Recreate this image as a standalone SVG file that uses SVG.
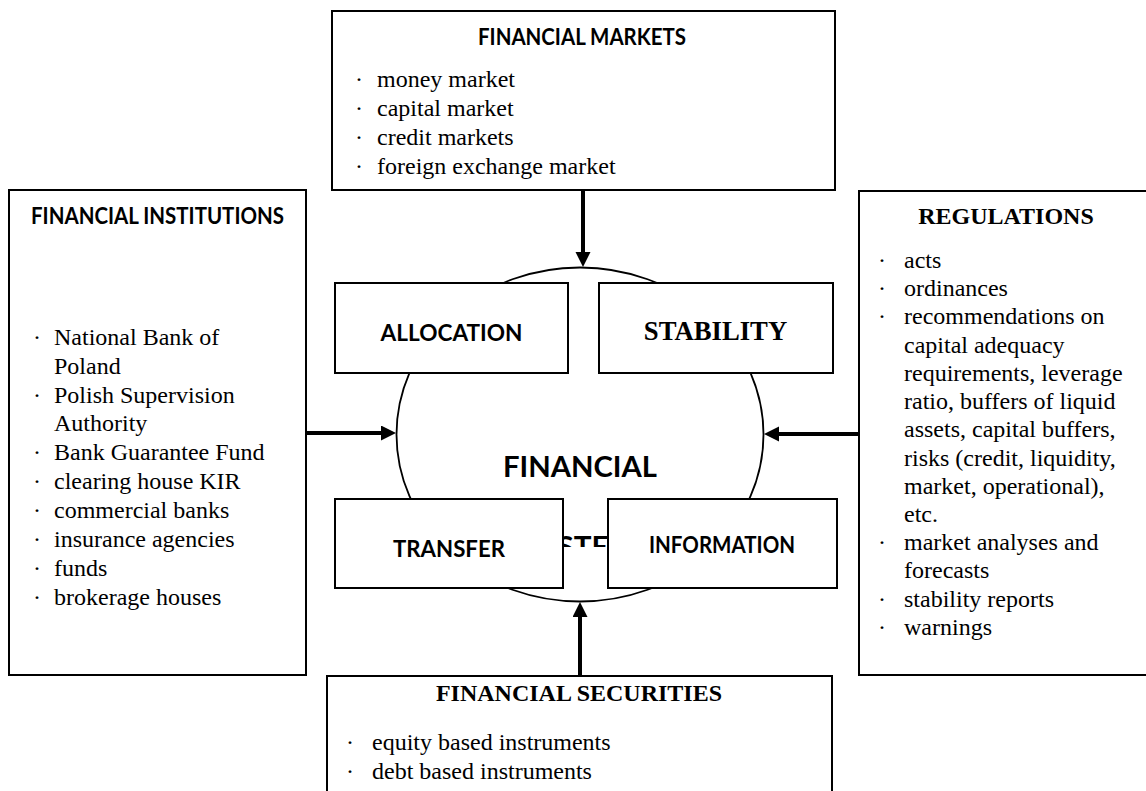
<svg xmlns="http://www.w3.org/2000/svg" width="1146" height="791" viewBox="0 0 1146 791">
<style>
.box{fill:#fff;stroke:#000;stroke-width:2}
.circ{fill:#fff;stroke:#000;stroke-width:1.8}
.t{font-family:"Liberation Serif","Times New Roman",serif;font-size:24px;fill:#000}
.tb{font-family:"Liberation Serif","Times New Roman",serif;font-size:24px;font-weight:bold;fill:#000;text-anchor:middle}
.tb2{font-family:"Liberation Serif","Times New Roman",serif;font-size:26.7px;font-weight:bold;fill:#000;text-anchor:middle}
.s{font-family:Lato,"Open Sans","Liberation Sans",sans-serif;font-weight:bold;fill:#000;text-anchor:middle}
.conn{stroke:#000;stroke-width:4;fill:none;marker-end:url(#ah)}
</style>
<defs>
<marker id="ah" markerUnits="userSpaceOnUse" markerWidth="16" markerHeight="16" refX="0" refY="7.5" orient="auto">
<path d="M0,0 L15,7.5 L0,15 z" fill="#000"/>
</marker>
<clipPath id="sysclip"><rect x="480" y="500" width="200" height="47"/></clipPath>
</defs>

<g id="markets">
<rect class="box" x="332" y="11" width="503" height="179"/>
<text class="s" x="582" y="45" font-size="22" textLength="208" lengthAdjust="spacingAndGlyphs">FINANCIAL MARKETS</text>
<text class="t" x="355" y="87">·</text><text class="t" x="377" y="87">money market</text>
<text class="t" x="355" y="116">·</text><text class="t" x="377" y="116">capital market</text>
<text class="t" x="355" y="145">·</text><text class="t" x="377" y="145">credit markets</text>
<text class="t" x="355" y="174">·</text><text class="t" x="377" y="174">foreign exchange market</text>
</g>

<g id="institutions">
<rect class="box" x="9" y="190" width="297" height="485"/>
<text class="s" x="157.5" y="224" font-size="22" textLength="253" lengthAdjust="spacingAndGlyphs">FINANCIAL INSTITUTIONS</text>
<text class="t" x="33" y="345">·</text><text class="t" x="54" y="345">National Bank of</text>
<text class="t" x="54" y="374">Poland</text>
<text class="t" x="33" y="403">·</text><text class="t" x="54" y="403">Polish Supervision</text>
<text class="t" x="54" y="431">Authority</text>
<text class="t" x="33" y="460">·</text><text class="t" x="54" y="460">Bank Guarantee Fund</text>
<text class="t" x="33" y="489">·</text><text class="t" x="54" y="489">clearing house KIR</text>
<text class="t" x="33" y="518">·</text><text class="t" x="54" y="518">commercial banks</text>
<text class="t" x="33" y="547">·</text><text class="t" x="54" y="547">insurance agencies</text>
<text class="t" x="33" y="576">·</text><text class="t" x="54" y="576">funds</text>
<text class="t" x="33" y="605">·</text><text class="t" x="54" y="605">brokerage houses</text>
</g>

<g id="regulations">
<rect class="box" x="859" y="191" width="300" height="484"/>
<text class="tb" x="1006" y="224">REGULATIONS</text>
<text class="t" x="878" y="268">·</text><text class="t" x="904" y="268">acts</text>
<text class="t" x="878" y="296">·</text><text class="t" x="904" y="296">ordinances</text>
<text class="t" x="878" y="324">·</text><text class="t" x="904" y="324">recommendations on</text>
<text class="t" x="904" y="353">capital adequacy</text>
<text class="t" x="904" y="381">requirements, leverage</text>
<text class="t" x="904" y="409">ratio, buffers of liquid</text>
<text class="t" x="904" y="437">assets, capital buffers,</text>
<text class="t" x="904" y="466">risks (credit, liquidity,</text>
<text class="t" x="904" y="494">market, operational),</text>
<text class="t" x="904" y="522">etc.</text>
<text class="t" x="878" y="550">·</text><text class="t" x="904" y="550">market analyses and</text>
<text class="t" x="904" y="578">forecasts</text>
<text class="t" x="878" y="607">·</text><text class="t" x="904" y="607">stability reports</text>
<text class="t" x="878" y="635">·</text><text class="t" x="904" y="635">warnings</text>
</g>

<g id="securities">
<rect class="box" x="327" y="676" width="505" height="130"/>
<text class="tb" x="579" y="701">FINANCIAL SECURITIES</text>
<text class="t" x="346" y="750">·</text><text class="t" x="372" y="750">equity based instruments</text>
<text class="t" x="346" y="779">·</text><text class="t" x="372" y="779">debt based instruments</text>
</g>

<g id="system">
<ellipse class="circ" cx="580" cy="434.5" rx="183.5" ry="167"/>
<text class="s" x="580" y="477" font-size="29" textLength="154" lengthAdjust="spacingAndGlyphs">FINANCIAL</text>
<text class="s" x="580" y="557" font-size="29" textLength="113" lengthAdjust="spacingAndGlyphs" clip-path="url(#sysclip)">SYSTEM</text>
</g>

<g id="allocation">
<rect class="box" x="335" y="283" width="233" height="90"/>
<text class="s" x="451.5" y="341" font-size="23" textLength="142" lengthAdjust="spacingAndGlyphs">ALLOCATION</text>
</g>
<g id="stability">
<rect class="box" x="599" y="283" width="234" height="90"/>
<text class="tb2" x="715.5" y="340">STABILITY</text>
</g>
<g id="transfer">
<rect class="box" x="335" y="499" width="228" height="89"/>
<text class="s" x="449" y="557" font-size="23" textLength="112" lengthAdjust="spacingAndGlyphs">TRANSFER</text>
</g>
<g id="information">
<rect class="box" x="608" y="499" width="229" height="89"/>
<text class="s" x="722" y="553" font-size="23" textLength="146" lengthAdjust="spacingAndGlyphs">INFORMATION</text>
</g>

<g id="connectors">
<line class="conn" x1="583" y1="190" x2="583" y2="252"/>
<line class="conn" x1="306" y1="433" x2="381" y2="433"/>
<line class="conn" x1="859" y1="434" x2="779" y2="434"/>
<line class="conn" x1="580" y1="676" x2="580" y2="617"/>
</g>
</svg>
